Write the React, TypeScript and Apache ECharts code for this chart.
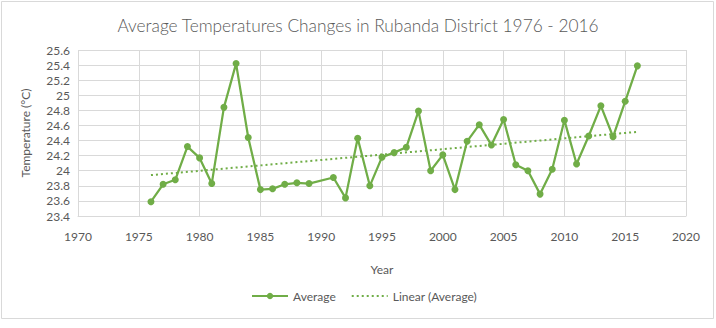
import React, { useEffect, useRef } from "react";
import * as echarts from "echarts";

const years = [1976, 1977, 1978, 1979, 1980, 1981, 1982, 1983, 1984, 1985, 1986, 1987, 1988, 1989, 1991, 1992, 1993, 1994, 1995, 1996, 1997, 1998, 1999, 2000, 2001, 2002, 2003, 2004, 2005, 2006, 2007, 2008, 2009, 2010, 2011, 2012, 2013, 2014, 2015, 2016];
const averages = [23.59, 23.82, 23.88, 24.32, 24.17, 23.83, 24.84, 25.42, 24.44, 23.75, 23.76, 23.82, 23.84, 23.83, 23.91, 23.64, 24.43, 23.8, 24.18, 24.24, 24.31, 24.79, 24.0, 24.21, 23.75, 24.39, 24.61, 24.34, 24.68, 24.08, 24.0, 23.69, 24.02, 24.67, 24.09, 24.46, 24.86, 24.45, 24.92, 25.39];

const TITLE = "Average Temperatures Changes in Rubanda District 1976 - 2016";
const GREEN = "#70ad47";
const TEXT = "#595959";
const GRID = "#d9d9d9";
const FONT = "Lato";

function linearFit(xs: number[], ys: number[]) {
  const n = xs.length;
  const mx = xs.reduce((a, b) => a + b, 0) / n;
  const my = ys.reduce((a, b) => a + b, 0) / n;
  let sxy = 0, sxx = 0;
  for (let i = 0; i < n; i++) {
    sxy += (xs[i] - mx) * (ys[i] - my);
    sxx += (xs[i] - mx) * (xs[i] - mx);
  }
  const b = sxy / sxx;
  return (x: number) => my + b * (x - mx);
}

export default function App() {
  const ref = useRef<HTMLDivElement>(null);
  useEffect(() => {
    if (!ref.current) return;
    const chart = echarts.init(ref.current, null, { renderer: "svg" });
    const fit = linearFit(years, averages);
    const x0 = years[0];
    const x1 = years[years.length - 1];
    chart.setOption({
      animation: false,
      backgroundColor: "#ffffff",
      textStyle: { fontFamily: FONT },
      title: {
        text: TITLE,
        left: "center",
        top: 12,
        textStyle: { fontFamily: FONT, fontSize: 17.3, fontWeight: 300, color: TEXT },
      },
      graphic: [
        {
          type: "rect",
          shape: { x: 1.5, y: 1.5, width: 712, height: 317 },
          style: { fill: "none", stroke: GRID, lineWidth: 1 },
          silent: true,
        },
      ],
      grid: { left: 78, right: 30, top: 50, bottom: 112 },
      xAxis: {
        type: "value",
        min: 1970,
        max: 2020,
        interval: 5,
        name: "Year",
        nameLocation: "middle",
        nameGap: 47,
        nameTextStyle: { color: TEXT, fontSize: 12, fontFamily: FONT },
        axisLine: { show: true, lineStyle: { color: GRID } },
        axisTick: { show: false },
        axisLabel: {
          color: TEXT,
          fontSize: 12,
          margin: 14,
          fontFamily: FONT,
          formatter: (v: number) => String(v),
        },
        splitLine: { show: true, lineStyle: { color: GRID } },
      },
      yAxis: {
        type: "value",
        min: 23.4,
        max: 25.6,
        interval: 0.2,
        name: "Temperature (°C)",
        nameLocation: "middle",
        nameRotate: 90,
        nameGap: 47,
        nameTextStyle: { color: TEXT, fontSize: 12, fontFamily: FONT },
        axisLine: { show: false },
        axisTick: { show: false },
        axisLabel: { color: TEXT, fontSize: 12, margin: 8, fontFamily: FONT },
        splitLine: { show: true, lineStyle: { color: GRID } },
      },
      legend: {
        bottom: 21,
        left: 246,
        itemWidth: 36,
        itemHeight: 8,
        itemGap: 15,
        textStyle: { color: TEXT, fontSize: 12, fontFamily: FONT },
        data: [
          { name: "Average" },
          { name: "Linear (Average)", itemStyle: { opacity: 0 } },
        ],
      },
      series: [
        {
          name: "Linear (Average)",
          type: "line",
          data: [[x0, fit(x0)], [x1, fit(x1)]],
          symbol: "none",
          lineStyle: { color: GREEN, width: 2, type: [2, 3] },
          itemStyle: { color: GREEN },
          z: 1,
        },
        {
          name: "Average",
          type: "line",
          data: years.map((y, i) => [y, averages[i]]),
          symbol: "circle",
          symbolSize: 7,
          lineStyle: { color: GREEN, width: 2.25 },
          itemStyle: { color: GREEN },
          z: 2,
        },
      ],
    });
    return () => chart.dispose();
  }, []);
  return (
    <div
      ref={ref}
      style={{ position: "absolute", left: 0, top: 0, width: 716, height: 328 }}
    />
  );
}
